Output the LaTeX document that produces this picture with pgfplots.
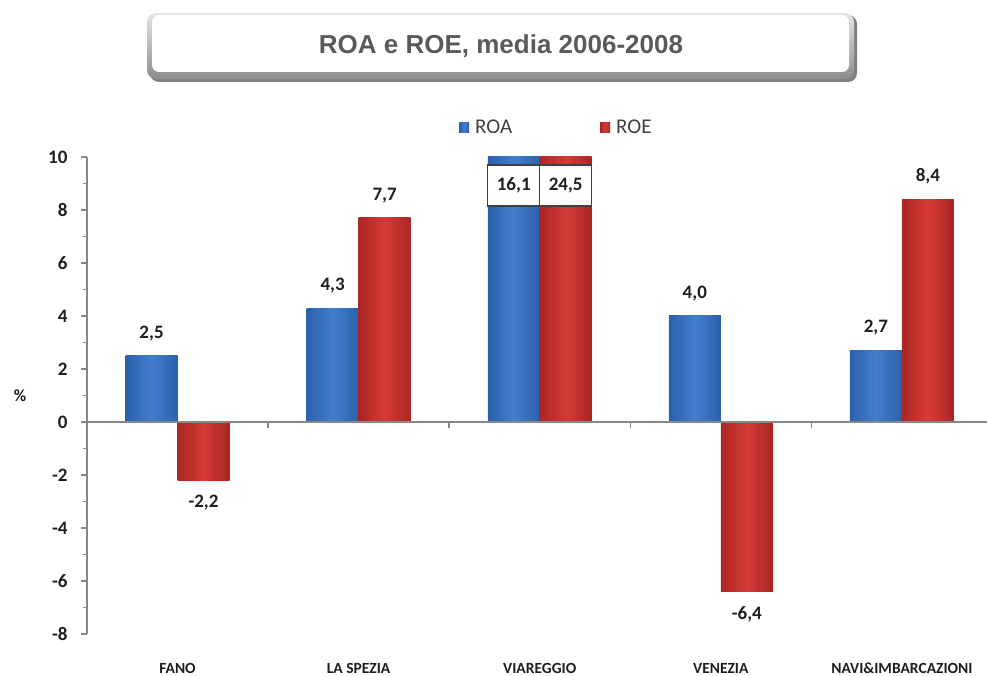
\documentclass[border=0pt]{standalone}
\usepackage{fontspec}
\setmainfont{Carlito}
\newfontfamily\titlefont{Liberation Sans}
\usepackage{pgfplots}
\pgfplotsset{compat=1.18}

\definecolor{axisgray}{HTML}{878787}
\definecolor{roaMid}{RGB}{66,126,204}
\definecolor{roaEdge}{RGB}{44,96,172}
\definecolor{roeMid}{RGB}{214,58,54}
\definecolor{roeEdge}{RGB}{170,38,36}
\definecolor{labelink}{HTML}{1E1E1E}
\definecolor{titleink}{HTML}{5A5A5A}

\begin{document}
\begin{tikzpicture}[x=1pt,y=1pt]
\useasboundingbox (0,0) rectangle (987,676);

% title panel with embossed edge
\fill[black!50, rounded corners=9] (150,594) rectangle (857,661);
\shade[rounded corners=9, top color=black!10, bottom color=black!45] (147,597) rectangle (854,663);
\fill[white, rounded corners=7] (152,604) rectangle (849,661);
\node[font=\titlefont\bfseries\fontsize{26}{30}\selectfont, text=titleink] at (501,630) {ROA e ROE, media 2006-2008};

\begin{axis}[
  at={(87pt,42pt)}, anchor=south west,
  scale only axis, width=900pt, height=477pt,
  xmin=-0.5, xmax=4.47, ymin=-8, ymax=10,
  axis y line*=left, axis x line*=bottom,
  x axis line style={draw=none},
  y axis line style={axisgray, line width=2pt},
  xtick={0,...,4},
  xticklabels={FANO, LA SPEZIA, VIAREGGIO, VENEZIA, NAVI\&IMBARCAZIONI},
  xtick style={draw=none},
  xticklabel style={anchor=center, yshift=-28pt, font=\fontsize{15.5}{16}\selectfont\bfseries, text=labelink},
  ytick={-8,-6,...,10},
  minor y tick num=1,
  tick align=outside,
  major tick length=6pt, minor tick length=4pt,
  y tick style={axisgray, line width=1.5pt},
  yticklabel style={font=\fontsize{19}{19}\selectfont\bfseries, text=labelink, xshift=-10pt},
  /pgf/number format/assume math mode=true,
  ylabel={\%},
  every axis y label/.style={at={(axis description cs:-0.0744,0.5)}, anchor=center,
    font=\fontsize{17}{17}\selectfont\bfseries, text=labelink},
  ybar, bar width=0.287,
  legend style={draw=none, fill=none, at={(0.41,1.061)}, anchor=west,
    legend columns=2, font=\fontsize{21}{21}\selectfont, text=black!75,
    /tikz/every odd column/.append style={column sep=4pt},
    /tikz/every even column/.append style={column sep=86pt}},
  legend image code/.code={\fill[#1] (0pt,-5pt) rectangle (10pt,5pt);},
  roa/.style={draw=none, left color=roaEdge, right color=roaEdge, middle color=roaMid, bar shift=-0.1435},
  roe/.style={draw=none, left color=roeEdge, right color=roeEdge, middle color=roeMid, bar shift=0.1435},
  labelstyle/.style={
    nodes near coords={\pgfmathprintnumber[fixed,fixed zerofill,precision=1,use comma,assume math mode=true]{\pgfplotspointmeta}},
    nodes near coords align=vertical,
    every node near coord/.append style={font=\fontsize{19}{19}\selectfont\bfseries,
      text=labelink, inner sep=0pt, outer ysep=15pt}},
]

% one plot per bar, so every bar gets its own shading
\addplot[roa, labelstyle] coordinates {(0,2.5)};
\addlegendentry{ROA}
\addplot[roe, labelstyle] coordinates {(0,-2.2)};
\addlegendentry{ROE}
\addplot[roa, labelstyle, forget plot] coordinates {(1,4.3)};
\addplot[roe, labelstyle, forget plot] coordinates {(1,7.7)};
% Viareggio: both bars run past the top of the axis
\addplot[roa, forget plot] coordinates {(2,16.1)};
\addplot[roe, forget plot] coordinates {(2,24.5)};
\addplot[roa, labelstyle, forget plot] coordinates {(3,4.0)};
\addplot[roe, labelstyle, forget plot] coordinates {(3,-6.4)};
\addplot[roa, labelstyle, forget plot] coordinates {(4,2.7)};
\addplot[roe, labelstyle, forget plot] coordinates {(4,8.4)};

% zero line and category separators
\draw[axisgray, line width=2pt] (axis cs:-0.5,0) -- (axis cs:4.47,0);
\draw[axisgray, line width=1.5pt] (axis cs:0.5,0) -- ([yshift=-6pt]axis cs:0.5,0);
\draw[axisgray, line width=1.5pt] (axis cs:1.5,0) -- ([yshift=-6pt]axis cs:1.5,0);
\draw[axisgray, line width=1.5pt] (axis cs:2.5,0) -- ([yshift=-6pt]axis cs:2.5,0);
\draw[axisgray, line width=1.5pt] (axis cs:3.5,0) -- ([yshift=-6pt]axis cs:3.5,0);

% value boxes for the clipped Viareggio bars
\node[draw=black!75, line width=1.3pt, fill=white, minimum width=52pt, minimum height=41pt,
  inner sep=0pt, font=\fontsize{19}{19}\selectfont\bfseries, text=labelink]
  at (axis cs:1.8565,8.92) {16,1};
\node[draw=black!75, line width=1.3pt, fill=white, minimum width=52pt, minimum height=41pt,
  inner sep=0pt, font=\fontsize{19}{19}\selectfont\bfseries, text=labelink]
  at (axis cs:2.1435,8.92) {24,5};
\end{axis}
\end{tikzpicture}
\end{document}
